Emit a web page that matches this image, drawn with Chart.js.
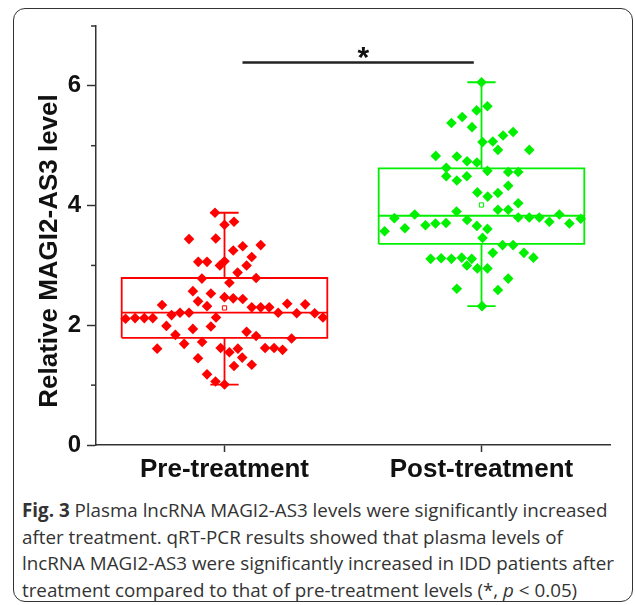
<!DOCTYPE html>
<html lang="en">
<head>
    <meta charset="UTF-8">
    <title>Plasma lncRNA MAGI2-AS3 levels</title>
    <script src="https://cdn.jsdelivr.net/npm/chart.js"></script>
    <style>
        body {
            margin: 0;
            background: #fff;
        }
        .frame {
            position: absolute;
            left: 13px;
            top: 8px;
            width: 620px;
            height: 594px;
            box-sizing: border-box;
            border: 1.5px solid #333;
            border-radius: 12px;
        }
        #wrap {
            position: absolute;
            left: 0;
            top: 0;
            width: 635px;
            height: 485px;
        }
        .caption {
            position: absolute;
            left: 22px;
            top: 497px;
            font-family: "Open Sans", sans-serif;
            font-size: 18.8px;
            line-height: 26.7px;
            color: #333;
            white-space: nowrap;
        }
    </style>
</head>
<body>
    <div class="frame"></div>
    <div id="wrap"><canvas id="boxChart" width="635" height="485"></canvas></div>
    <div class="caption"><b>Fig. 3</b> Plasma lncRNA MAGI2-AS3 levels were significantly increased<br>after treatment. qRT-PCR results showed that plasma levels of<br>lncRNA MAGI2-AS3 were significantly increased in IDD patients after<br>treatment compared to that of pre-treatment levels (*, <i>p</i> &lt; 0.05)</div>

    <script>
        // grupos y valores
        const groups = ['Pre-treatment', 'Post-treatment'];
        const colors = ['#ff0000', '#00f000'];

        // desplazamiento horizontal de cada punto dentro de su grupo
        const preJitter = [-0.037, 0, 0.037, -0.138, -0.034, 0.034, 0.071, 0.141, -0.102, -0.068, -0.018, 0,
            0.106, 0.086, 0.051, 0.123, -0.088, 0.019, -0.123, -0.053, 0, 0.034, 0.071, -0.103,
            -0.068, -0.243, 0.106, 0.141, 0.174, 0.209, 0.244, 0.281, 0.314, 0.351, 0.383, -0.385,
            -0.348, -0.312, -0.279, -0.206, -0.173, -0.138, -0.033, -0.226, -0.123, -0.053, -0.191, -0.157,
            -0.087, -0.262, -0.015, 0.019, 0.052, 0.086, 0.123, 0.261, 0.158, 0.193, 0.226, -0.103,
            0.069, 0.037, 0.106, -0.068, -0.035, 0];
        const preValues = [3.88, 3.68, 3.73, 3.44, 3.45, 3.25, 3.32, 3.34, 3.06, 3.06, 3.00, 3.07,
            3.14, 3.00, 2.88, 2.79, 2.78, 2.71, 2.57, 2.53, 2.47, 2.45, 2.44, 2.40,
            2.32, 2.34, 2.30, 2.30, 2.30, 2.21, 2.36, 2.20, 2.35, 2.20, 2.13, 2.11,
            2.12, 2.12, 2.12, 2.17, 2.21, 2.21, 2.13, 1.99, 1.94, 1.98, 1.84, 1.69,
            1.72, 1.61, 1.62, 1.55, 1.61, 1.89, 1.82, 1.78, 1.62, 1.62, 1.59, 1.45,
            1.46, 1.32, 1.34, 1.18, 1.06, 1.01];

        const postJitter = [0, 0.023, -0.019, -0.075, -0.117, -0.037, 0.084, 0.123, 0.004, 0.044, 0.064, 0.186,
            -0.178, -0.096, -0.056, -0.018, -0.137, 0.023, 0.104, 0.143, -0.137, -0.096, -0.057, 0.104,
            -0.016, 0.024, 0.064, 0.143, -0.097, 0.064, 0.104, -0.260, -0.339, 0.143, 0.186, 0.225,
            0.303, 0.342, 0.386, 0.264, -0.056, -0.018, 0.023, -0.218, -0.179, -0.138, -0.298, -0.377,
            0.004, 0.082, 0.123, 0.044, 0.165, 0.202, -0.198, -0.157, -0.117, -0.077, -0.038, -0.057,
            -0.016, 0.023, 0.104, -0.096, 0.064, 0.002];
        const postValues = [6.06, 5.66, 5.59, 5.48, 5.38, 5.31, 5.17, 5.23, 5.06, 5.07, 4.93, 4.93,
            4.83, 4.82, 4.74, 4.72, 4.63, 4.58, 4.56, 4.56, 4.49, 4.42, 4.49, 4.33,
            4.22, 4.15, 4.21, 4.04, 3.90, 3.93, 3.93, 3.85, 3.79, 3.80, 3.80, 3.80,
            3.85, 3.70, 3.78, 3.73, 3.76, 3.66, 3.61, 3.67, 3.70, 3.71, 3.62, 3.57,
            3.46, 3.34, 3.34, 3.21, 3.21, 3.13, 3.11, 3.12, 3.11, 3.13, 3.11, 3.00,
            2.95, 2.95, 2.78, 2.61, 2.59, 2.32];

        // caja: [min, q1, mediana, q3, max]
        const preBox = [1.01, 1.79, 2.21, 2.79, 3.88];
        const postBox = [2.32, 3.36, 3.83, 4.62, 6.06];
        const means = [2.29, 4.01];

        const yTicks = [0, 2, 4, 6];
        const yMinorTicks = [1, 3, 5, 7];
        const sigBar = [1.07, 1.97];   // extremos de la barra de significancia
        const sigLevel = 6.39;
        const sigStarX = 1.54;

        const FONT = 'Arial, "Liberation Sans", sans-serif';
        const BOX_HALF = 0.4;
        const CAP_HALF = 0.055;

        function boxOutline(center, b) {
            const [mn, q1, med, q3, mx] = b;
            const gap = { x: center, y: null };
            return [
                { x: center - BOX_HALF, y: q1 }, { x: center + BOX_HALF, y: q1 },
                { x: center + BOX_HALF, y: q3 }, { x: center - BOX_HALF, y: q3 },
                { x: center - BOX_HALF, y: q1 }, gap,
                { x: center - BOX_HALF, y: med }, { x: center + BOX_HALF, y: med }, gap,
                { x: center, y: q3 }, { x: center, y: mx }, gap,
                { x: center - CAP_HALF, y: mx }, { x: center + CAP_HALF, y: mx }, gap,
                { x: center, y: q1 }, { x: center, y: mn }, gap,
                { x: center - CAP_HALF, y: mn }, { x: center + CAP_HALF, y: mn }
            ];
        }

        function points(center, jitter, values) {
            return values.map((v, i) => ({ x: center + jitter[i], y: v }));
        }

        const boxes = [preBox, postBox];
        const jitters = [preJitter, postJitter];
        const valueSets = [preValues, postValues];

        const datasets = [];
        groups.forEach((g, i) => {
            datasets.push({
                label: g,
                data: points(i + 1, jitters[i], valueSets[i]),
                pointStyle: 'rectRot',
                pointRadius: 5.3,
                backgroundColor: colors[i],
                borderColor: colors[i],
                borderWidth: 0,
                order: 0
            });
            datasets.push({
                label: g + ' mean',
                data: [{ x: i + 1, y: means[i] }],
                pointStyle: 'rect',
                pointRadius: 3,
                backgroundColor: '#fff',
                borderColor: colors[i],
                borderWidth: 1,
                order: 1
            });
            datasets.push({
                label: g + ' box',
                data: boxOutline(i + 1, boxes[i]),
                showLine: true,
                spanGaps: false,
                pointRadius: 0,
                borderColor: colors[i],
                borderWidth: 1.8,
                borderJoinStyle: 'miter',
                order: 2
            });
        });
        datasets.push({
            label: 'sig',
            data: [{ x: sigBar[0], y: sigLevel }, { x: sigBar[1], y: sigLevel }],
            showLine: true,
            pointRadius: 0,
            borderColor: '#222',
            borderWidth: 2.5,
            order: 3
        });

        // ticks menores, titulo del eje y asterisco
        const extras = {
            id: 'extras',
            afterDraw(chart) {
                const { ctx, chartArea, scales: { x, y } } = chart;
                ctx.save();
                ctx.strokeStyle = '#333';
                ctx.lineWidth = 1.5;
                yMinorTicks.forEach(v => {
                    const py = y.getPixelForValue(v);
                    ctx.beginPath();
                    ctx.moveTo(chartArea.left - 5, py);
                    ctx.lineTo(chartArea.left, py);
                    ctx.stroke();
                });

                ctx.fillStyle = '#111';
                ctx.font = 'bold 26px ' + FONT;
                ctx.textAlign = 'center';
                ctx.textBaseline = 'middle';
                ctx.translate(50, 251);
                ctx.rotate(-Math.PI / 2);
                ctx.fillText('Relative MAGI2-AS3 level', 0, 0);
                ctx.restore();

                ctx.save();
                ctx.fillStyle = '#111';
                ctx.font = 'bold 30px ' + FONT;
                ctx.textAlign = 'center';
                ctx.textBaseline = 'alphabetic';
                ctx.fillText('*', x.getPixelForValue(sigStarX), y.getPixelForValue(sigLevel) + 4);
                ctx.restore();
            }
        };

        const ctx = document.getElementById('boxChart').getContext('2d');
        const chart = new Chart(ctx, {
            type: 'scatter',
            data: { datasets: datasets },
            options: {
                responsive: false,
                animation: false,
                devicePixelRatio: 1,
                layout: { padding: { top: 26, right: 25, left: 0, bottom: 0 } },
                plugins: {
                    legend: { display: false },
                    tooltip: { enabled: false }
                },
                scales: {
                    x: {
                        type: 'linear',
                        min: 0.5,
                        max: 2.5,
                        afterBuildTicks: axis => {
                            axis.ticks = groups.map((g, i) => ({ value: i + 1 }));
                        },
                        afterFit: scale => { scale.height = 40; },
                        grid: { drawOnChartArea: false, tickLength: 7, tickColor: '#333', tickWidth: 1.5 },
                        border: { color: '#333', width: 1.5 },
                        ticks: {
                            autoSkip: false,
                            maxRotation: 0,
                            padding: 2,
                            color: '#111',
                            font: { family: FONT, size: 26, weight: 'bold' },
                            callback: v => groups[v - 1] || ''
                        }
                    },
                    y: {
                        min: 0,
                        max: 7,
                        afterFit: scale => { scale.width = 96; },
                        grid: {
                            drawOnChartArea: false,
                            tickLength: 9,
                            tickWidth: 1.5,
                            tickColor: c => yTicks.includes(c.tick.value) ? '#333' : 'rgba(0,0,0,0)'
                        },
                        border: { color: '#333', width: 1.5 },
                        ticks: {
                            stepSize: 1,
                            padding: 6,
                            color: '#111',
                            font: { family: FONT, size: 24, weight: 'bold' },
                            callback: v => yTicks.includes(v) ? v : ''
                        }
                    }
                }
            },
            plugins: [extras]
        });
    </script>
</body>
</html>
